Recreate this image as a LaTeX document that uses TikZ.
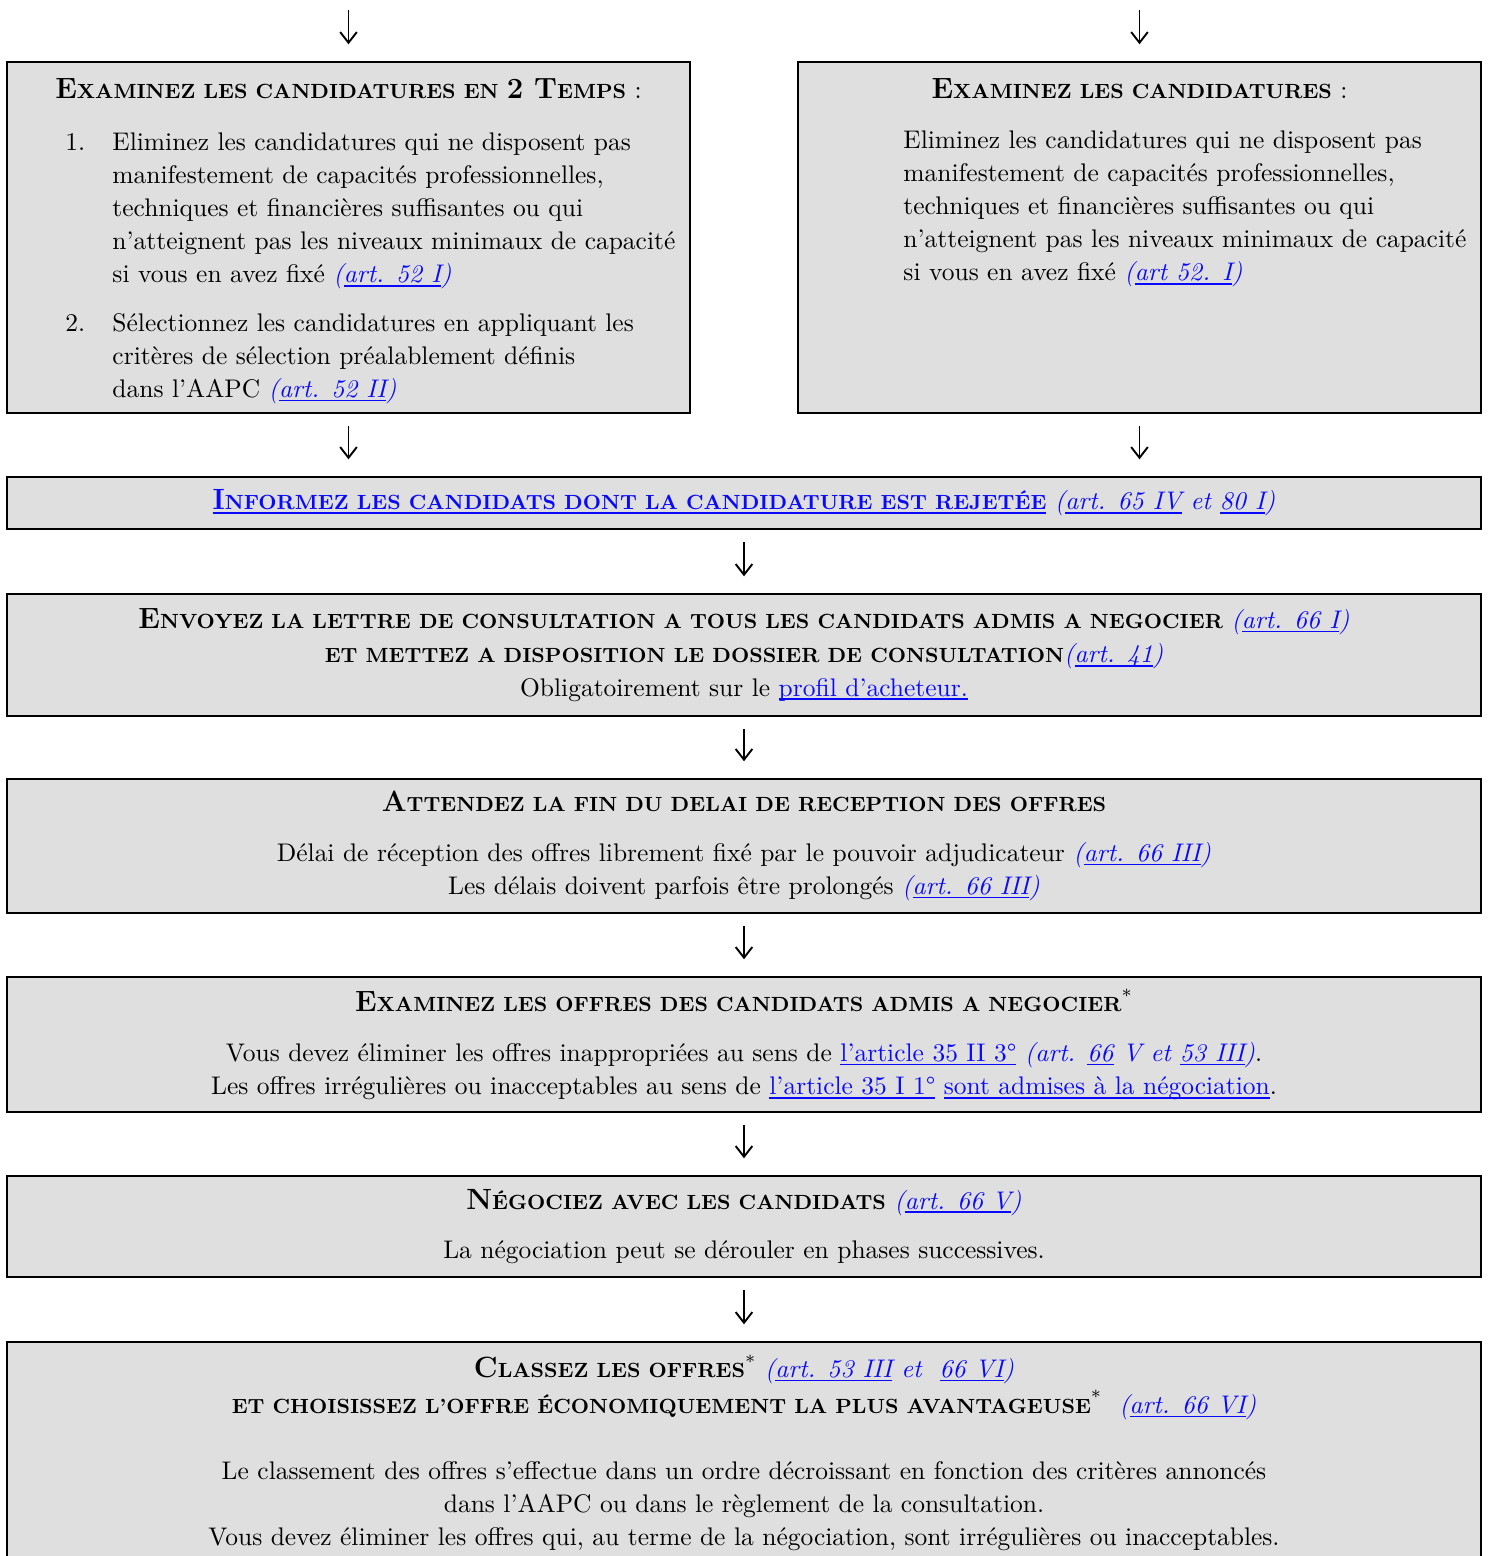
\documentclass[tikz,border=0pt]{standalone}
\usetikzlibrary{positioning,arrows.meta}

\definecolor{fond}{RGB}{223,223,223}
\definecolor{lien}{RGB}{10,10,250}

% titres en petites capitales grasses
\newcommand{\titre}[1]{{\bfseries\fontsize{8.62}{15}\selectfont #1}}
\newcommand{\grande}[1]{{\fontsize{12.3}{15}\selectfont #1}}
\newcommand{\souligne}[1]{\sbox0{#1}\rlap{\usebox0}\rule[-1.6pt]{\wd0}{0.6pt}}
\newcommand{\lien}[1]{\textcolor{lien}{\souligne{#1}}}
\newcommand{\refart}[1]{\textcolor{lien}{\itshape(#1)}}
\newcommand{\etoile}{\textsuperscript{\mdseries *}}

\begin{document}
\begin{tikzpicture}[
  x=0.42pt, y=-0.42pt,
  boite/.style={rectangle, draw, line width=0.9pt, fill=fond, minimum width=619pt, inner sep=0pt, align=center},
  demi/.style={rectangle, draw, line width=0.9pt, fill=fond, minimum width=287pt, minimum height=147.4pt, inner sep=0pt},
  texte/.style={inner sep=0pt, align=left},
  fleche/.style={-{Straight Barb[length=4.5pt,width=7pt]}, line width=0.8pt, shorten <=5pt, shorten >=7pt},
  font=\fontsize{10.7}{13.9}\selectfont
]
\useasboundingbox (0,0) rectangle (1489,1556);
\clip (0,0) rectangle (1489,1556);

% deux colonnes du haut
\node[demi] (examL) at (348.5,237.5) {};
\node[demi] (examR) at (1139.5,237.5) {};

\node[inner sep=0pt, anchor=base] (titreL) at (348.5,98)
  {\titre{\grande{E}XAMINEZ LES CANDIDATURES EN \grande{2 T}EMPS} :};
\node[inner sep=0pt, anchor=base west] (num1) at (65,150) {1.};
\node[texte, anchor=north west] (item1) at (112,126.8)
  {\strut Eliminez les candidatures qui ne disposent pas\\
   manifestement de capacités professionnelles,\\
   techniques et financières suffisantes ou qui\\
   n’atteignent pas les niveaux minimaux de capacité\\
   si vous en avez fixé \refart{\souligne{art. 52 I}}};
\node[inner sep=0pt, anchor=base west] (num2) at (65,331) {2.};
\node[texte, anchor=north west] (item2) at (112,307.8)
  {\strut Sélectionnez les candidatures en appliquant les\\
   critères de sélection préalablement définis\\
   dans l’AAPC \refart{\souligne{art. 52 II}}};

\node[inner sep=0pt, anchor=base] (titreR) at (1139.5,98)
  {\titre{\grande{E}XAMINEZ LES CANDIDATURES} :};
\node[texte, anchor=north west] (itemR) at (903,124.8)
  {\strut Eliminez les candidatures qui ne disposent pas\\
   manifestement de capacités professionnelles,\\
   techniques et financières suffisantes ou qui\\
   n’atteignent pas les niveaux minimaux de capacité\\
   si vous en avez fixé \refart{\souligne{art 52. I}}};

% etapes pleine largeur
\node[boite, minimum height=21.8pt] (inform) at (744,503)
  {\lien{\titre{\grande{I}NFORMEZ LES CANDIDATS DONT LA CANDIDATURE EST REJETÉE}}
   \refart{\souligne{art. 65 IV} et \souligne{80 I}}};

\node[boite, minimum height=51.2pt] (envoi) at (744,655)
  {\titre{\grande{E}NVOYEZ LA LETTRE DE CONSULTATION A TOUS LES CANDIDATS ADMIS A NEGOCIER}
   \refart{\souligne{art. 66 I}}\\[0.5pt]
   \titre{ET METTEZ A DISPOSITION LE DOSSIER DE CONSULTATION}\refart{\souligne{art. 41}}\\
   Obligatoirement sur le \lien{profil d’acheteur.}};

\node[boite, minimum height=56.3pt] (attente) at (744,846)
  {\titre{\grande{A}TTENDEZ LA FIN DU DELAI DE RECEPTION DES OFFRES}\\[7pt]
   Délai de réception des offres librement fixé par le pouvoir adjudicateur \refart{\souligne{art. 66 III}}\\
   Les délais doivent parfois être prolongés \refart{\souligne{art. 66 III}}};

\node[boite, minimum height=56.7pt] (offres) at (744,1044.5)
  {\titre{\grande{E}XAMINEZ LES OFFRES DES CANDIDATS ADMIS A NEGOCIER}\etoile\\[7pt]
   Vous devez éliminer les offres inappropriées au sens de \lien{l’article 35 II 3°}
   \refart{art. \souligne{66} V et \souligne{53 III}}.\\
   Les offres irrégulières ou inacceptables au sens de \lien{l’article 35 I 1°}
   \lien{sont admises à la négociation}.};

\node[boite, minimum height=42.4pt] (nego) at (744,1226.5)
  {\titre{\grande{N}ÉGOCIEZ AVEC LES CANDIDATS} \refart{\souligne{art. 66 V}}\\[7pt]
   La négociation peut se dérouler en phases successives.};

\node[boite, minimum height=110pt, anchor=north] (classe) at (744,1341) {};
\node[inner sep=0pt, align=center, anchor=north] (classeTxt) at (744,1354)
  {\strut\titre{\grande{C}LASSEZ LES OFFRES}\etoile\ \refart{\souligne{art. 53 III} et \ \souligne{66 VI}}\\[1pt]
   \titre{ET CHOISISSEZ L’OFFRE ÉCONOMIQUEMENT LA PLUS AVANTAGEUSE}\etoile\ \ \refart{\souligne{art. 66 VI}}\\[14pt]
   Le classement des offres s’effectue dans un ordre décroissant en fonction des critères annoncés\\
   dans l’AAPC ou dans le règlement de la consultation.\\
   Vous devez éliminer les offres qui, au terme de la négociation, sont irrégulières ou inacceptables.};

% fleches
\coordinate (hautL) at (348.5,-2);
\coordinate (hautR) at (1139.5,-2);
\draw[fleche] (hautL) -- (examL.north);
\draw[fleche] (hautR) -- (examR.north);
\draw[fleche] (examL.south) -- (examL.south |- inform.north);
\draw[fleche] (examR.south) -- (examR.south |- inform.north);
\draw[fleche] (inform) -- (envoi);
\draw[fleche] (envoi) -- (attente);
\draw[fleche] (attente) -- (offres);
\draw[fleche] (offres) -- (nego);
\draw[fleche] (nego) -- (classe);
\end{tikzpicture}
\end{document}
